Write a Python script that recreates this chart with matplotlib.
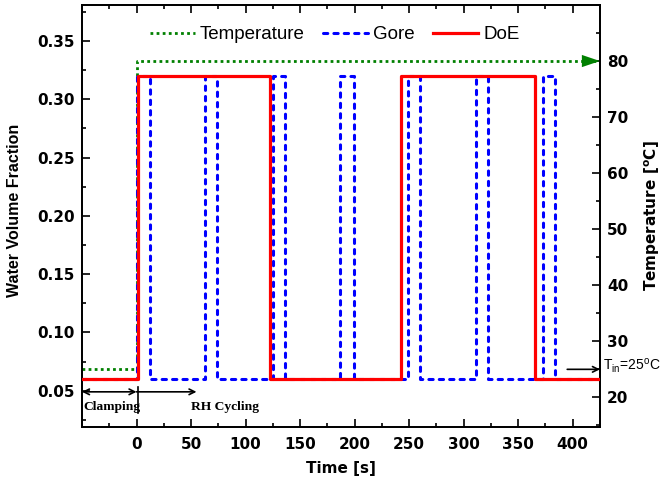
import numpy as np
import matplotlib
matplotlib.use('Agg')
import matplotlib.pyplot as plt
from matplotlib.ticker import MultipleLocator, FormatStrFormatter

# step profiles (time in s)
temp_t = [-50, 0, 425]
temp_v = [25, 80, 80]

doe_t = [-50, 1, 122, 243, 365, 425]
doe_v = [0.06, 0.32, 0.06, 0.32, 0.06, 0.06]

gore_t = [-50, 0, 12, 63, 74, 125, 136, 187, 199, 249, 260, 311, 322, 373, 384, 425]
gore_v = [0.06, 0.32, 0.06, 0.32, 0.06, 0.32, 0.06, 0.32, 0.06, 0.32, 0.06,
          0.32, 0.06, 0.32, 0.06, 0.06]

fig = plt.figure(figsize=(6.64, 4.79), dpi=100)
ax = fig.add_axes([0.1235, 0.109, 0.78, 0.8806])
ax2 = ax.twinx()

l_temp, = ax2.plot(temp_t, temp_v, drawstyle='steps-post', color='#008000',
                   lw=2.0, linestyle=(0, (1, 1.2)), zorder=1)
l_gore, = ax.plot(gore_t, gore_v, drawstyle='steps-post', color='#0000ff',
                  lw=2.2, linestyle=(0, (1.4, 2.0)), dash_capstyle='round',
                  dash_joinstyle='round', zorder=2)
l_doe, = ax.plot(doe_t, doe_v, drawstyle='steps-post', color='#ff0000',
                 lw=2.3, zorder=3)
ax.set_zorder(ax2.get_zorder() + 1)
ax.patch.set_visible(False)

# arrow head at the end of the temperature line
ax2.annotate('', xy=(425, 80), xytext=(405, 80),
             arrowprops=dict(arrowstyle='-|>,head_length=0.65,head_width=0.22',
                             mutation_scale=20, color='#008000', lw=0,
                             shrinkA=0, shrinkB=0),
             annotation_clip=False)

ax.set_xlim(-50, 425)
ax.set_ylim(0.019, 0.381)
ax2.set_ylim(14.75, 90)

ax.set_xticks(np.arange(0, 401, 50))
ax.xaxis.set_minor_locator(MultipleLocator(25))
ax.set_yticks(np.arange(0.05, 0.351, 0.05))
ax.yaxis.set_minor_locator(MultipleLocator(0.025))
ax.yaxis.set_major_formatter(FormatStrFormatter('%.2f'))
ax2.set_yticks(np.arange(20, 81, 10))
ax2.yaxis.set_minor_locator(MultipleLocator(5))

for a in (ax, ax2):
    a.tick_params(which='major', direction='in', length=6, width=1.2,
                  labelsize=11, top=True)
    a.tick_params(which='minor', direction='in', length=3, width=1.2, top=True)
    for s in a.spines.values():
        s.set_linewidth(1.3)
ax.tick_params(axis='y', which='both', right=False, pad=5)
ax.tick_params(axis='x', pad=7)
ax2.tick_params(axis='y', which='both', left=False, pad=5)
for lab in ax.get_xticklabels() + ax.get_yticklabels() + ax2.get_yticklabels():
    lab.set_fontweight('bold')

ax.set_xlabel('Time [s]', fontsize=11, fontweight='bold', labelpad=7)
ax.set_ylabel('Water Volume Fraction', family='Liberation Sans', fontsize=11.5,
              fontweight='bold')
ax.yaxis.set_label_coords(-0.115, 0.513)
ax2.set_ylabel('Temperature [$\\mathbf{^{o}}$C]', fontsize=11, fontweight='bold',
               labelpad=10)

# phase annotations
ax.annotate('', xy=(-50, 0.049), xytext=(0, 0.049),
            arrowprops=dict(arrowstyle='<->', color='black', lw=1.2,
                            shrinkA=0, shrinkB=0))
ax.annotate('', xy=(55, 0.049), xytext=(0, 0.049),
            arrowprops=dict(arrowstyle='->', color='black', lw=1.2,
                            shrinkA=0, shrinkB=0))
ax.plot([1.5, 1.5], [0.031, 0.053], color='black', lw=1.2)
ax.text(-49, 0.036, 'Clamping', family='Liberation Serif', fontweight='bold',
        fontsize=9.7, va='center', ha='left')
ax.text(50, 0.036, 'RH Cycling', family='Liberation Serif', fontweight='bold',
        fontsize=9.7, va='center', ha='left')

ax2.annotate('', xy=(425, 25), xytext=(395, 25),
             arrowprops=dict(arrowstyle='->', color='black', lw=1.2,
                             shrinkA=0, shrinkB=0), annotation_clip=False)
ax2.text(428, 25.6, 'T$_{\\mathregular{in}}$=25$^{\\mathregular{o}}$C',
         family='Liberation Sans', fontsize=10, va='center', ha='left',
         clip_on=False)

ax.legend([l_temp, l_gore, l_doe], ['Temperature', 'Gore', 'DoE'],
          loc='center', bbox_to_anchor=(0.488, 0.929), ncol=3,
          frameon=False, prop={'family': 'Liberation Sans', 'size': 13.5},
          handlelength=2.4, columnspacing=1.0, handletextpad=0.25)

fig.savefig('out.png', dpi=100)
